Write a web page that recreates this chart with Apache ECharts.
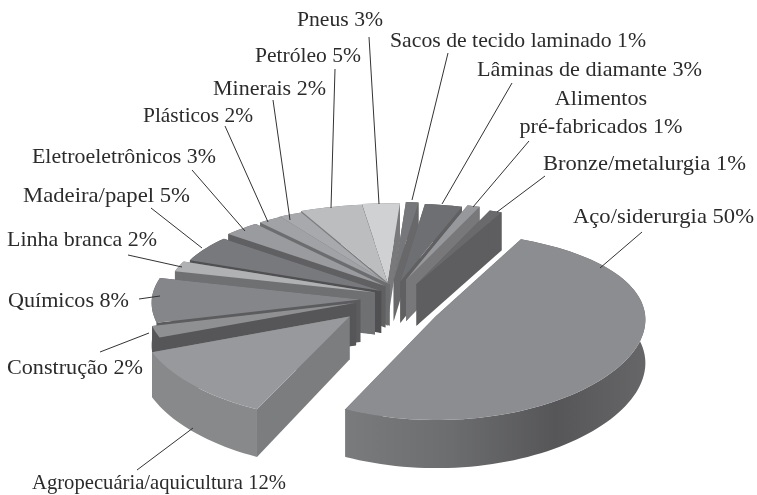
<!DOCTYPE html>
<html>
<head>
<meta charset="utf-8">
<style>html,body{margin:0;padding:0;background:#fff}#chart{width:757px;height:495px}</style>
<script src="https://cdn.jsdelivr.net/npm/echarts@6/dist/echarts.min.js"></script>
</head>
<body>
<div id="chart"></div>
<script>
// categories and shares, clockwise from the big slice
const sectors = ['Aço/siderurgia', 'Agropecuária/aquicultura', 'Construção', 'Químicos', 'Linha branca',
  'Madeira/papel', 'Eletroeletrônicos', 'Plásticos', 'Minerais', 'Petróleo', 'Pneus',
  'Sacos de tecido laminado', 'Lâminas de diamante', 'Alimentos\npré-fabricados', 'Bronze/metalurgia'];
const shares = [50, 12, 2, 8, 2, 5, 3, 2, 2, 5, 3, 1, 3, 1, 1];

// greys of the top faces and of the walls
const topColors = ['#8c8d90', '#98999c', '#8f9092', '#85868a', '#b0b1b3', '#78797c', '#9a9b9e', '#a1a2a5',
  '#a8a9ac', '#bcbdbf', '#d0d1d2', '#76777a', '#6e6f72', '#97989b', '#6a6a6d'];
const wallColors = ['#6a6a6c', '#7c7d7f', '#565658', '#5c5c5e', '#6f7072', '#505052', '#606062', '#6c6d6f',
  '#747577', '#7c7d7f', '#79797b', '#68686a', '#606062', '#78787a', '#5e5e60'];

// how far each slice is pulled out, in pie radii [across, back]
const explodeBy = [[0.16, -0.27], [-0.25, -0.27], [-0.22, -0.12], [-0.2, -0.085], [-0.13, -0.005],
  [-0.1, 0.01], [-0.08, 0.07], [-0.06, 0.09], [-0.07, 0.09], [-0.07, 0.11], [-0.07, 0.12],
  [-0.04, 0.14], [-0.008, 0.12], [0.02, 0.14], [0.07, 0.09]];

// label baseline [x, y, align, width], leader line [x1, y1, x2, y2]
const labelSpots = [
  [573, 223, 'left', 181], [32, 489, 'left', 254], [7, 374, 'left', 136], [8, 307, 'left', 121], [7, 246, 'left', 150],
  [23, 202, 'left', 167], [32, 163, 'left', 184], [143, 122, 'left', 110], [213, 95, 'left', 113], [255, 62, 'left', 106],
  [297, 26, 'left', 86], [390, 47, 'left', 256], [477, 76, 'left', 225], [601, 133, 'center', 163], [543, 170, 'left', 203]
];
const leaders = [
  [642, 232, 600, 268], [137, 470, 193, 428], [100, 352, 149, 333], [139, 299, 160, 296], [128, 255, 182, 267],
  [151, 208, 202, 248], [192, 170, 245, 231], [225, 126, 268, 222], [273, 100, 290, 220], [335, 69, 331, 208],
  [369, 37, 379, 204], [448, 53, 412, 200], [512, 83, 442, 204], [529, 141, 473, 207], [545, 176, 497, 212]
];

// pie plane -> screen, with a little perspective (weaker across than in depth)
const cx = 402, cy = 292, rx = 208, ry = 88, wallDepth = 42, perspX = 0.03, perspY = 0.1;
const startAngle = 65;
const labelFont = '21px "Liberation Serif"', labelLine = 28;
function project(u, v, drop) {
  const w = 1 + perspY * v;
  return [cx + rx * u / (1 + perspX * v), cy - ry * v / w + drop / w];
}

const slices = [];
let cursor = startAngle;
shares.forEach((v, i) => {
  const span = v / 100 * 360;
  slices.push({ index: i, from: cursor, to: cursor - span, mid: cursor - span / 2 });
  cursor -= span;
});
// far slices get painted first
const paintOrder = slices.slice().sort((a, b) =>
  Math.sin(b.mid * Math.PI / 180) - Math.sin(a.mid * Math.PI / 180));

function renderSlice(params, api) {
  const s = slices[api.value(0)];
  const ou = explodeBy[s.index][0], ov = explodeBy[s.index][1];
  const arc = [];
  for (let a = s.from; a >= s.to - 0.001; a -= 2) {
    const r = a * Math.PI / 180;
    arc.push([ou + Math.cos(r), ov + Math.sin(r)]);
  }
  const e = s.to * Math.PI / 180;
  arc.push([ou + Math.cos(e), ov + Math.sin(e)]);

  const top = [project(ou, ov, 0)].concat(arc.map(p => project(p[0], p[1], 0)));
  const wallFill = wallColors[s.index];
  const wall = pts => ({ type: 'polygon', shape: { points: pts }, style: { fill: wallFill } });
  const first = arc[0], last = arc[arc.length - 1];
  const apexTop = project(ou, ov, 0), apexLow = project(ou, ov, wallDepth);
  // rim of the two big front slices is shaded, the rest stays flat
  let rimFill = wallFill;
  if (s.index === 0) {
    rimFill = new echarts.graphic.LinearGradient(0, 0, 1, 0, [
      { offset: 0, color: '#7a7b7d' }, { offset: 0.35, color: '#6c6d6f' },
      { offset: 0.7, color: '#565658' }, { offset: 1, color: '#666668' }
    ]);
  } else if (s.index === 1) {
    rimFill = '#88898b';
  }
  const rim = arc.map(p => project(p[0], p[1], 0))
    .concat(arc.slice().reverse().map(p => project(p[0], p[1], wallDepth)));
  const children = [
    wall([apexTop, project(first[0], first[1], 0), project(first[0], first[1], wallDepth), apexLow]),
    wall([apexTop, project(last[0], last[1], 0), project(last[0], last[1], wallDepth), apexLow]),
    { type: 'polygon', shape: { points: rim }, style: { fill: rimFill } },
    { type: 'polygon', shape: { points: top }, style: { fill: topColors[s.index] } }
  ];
  return { type: 'group', children };
}

// the original type is wider than Liberation Serif, so each label is stretched to its width
const ruler = document.createElement('canvas').getContext('2d');
ruler.font = labelFont;
const labelGraphics = sectors.map((name, i) => {
  const text = name + ' ' + shares[i] + '%';
  const natural = Math.max(...text.split('\n').map(t => ruler.measureText(t).width));
  return {
    type: 'text', silent: true, z: 11,
    x: labelSpots[i][0], y: labelSpots[i][1] + 8,
    scaleX: labelSpots[i][3] / natural,
    style: {
      text: text,
      font: labelFont,
      fill: '#2b2b2b',
      align: labelSpots[i][2],
      verticalAlign: 'bottom',
      lineHeight: labelLine
    }
  };
});
const leaderGraphics = leaders.map(l => ({
  type: 'line', silent: true, z: 10,
  shape: { x1: l[0], y1: l[1], x2: l[2], y2: l[3] },
  style: { stroke: '#333', lineWidth: 1 }
}));

const chart = echarts.init(document.getElementById('chart'), null, { renderer: 'canvas' });
chart.setOption({
  animation: false,
  backgroundColor: '#fff',
  series: [{
    type: 'custom',
    coordinateSystem: 'none',
    silent: true,
    data: paintOrder.map(s => [s.index, shares[s.index]]),
    renderItem: renderSlice
  }],
  graphic: { elements: leaderGraphics.concat(labelGraphics) }
});
</script>
</body>
</html>
